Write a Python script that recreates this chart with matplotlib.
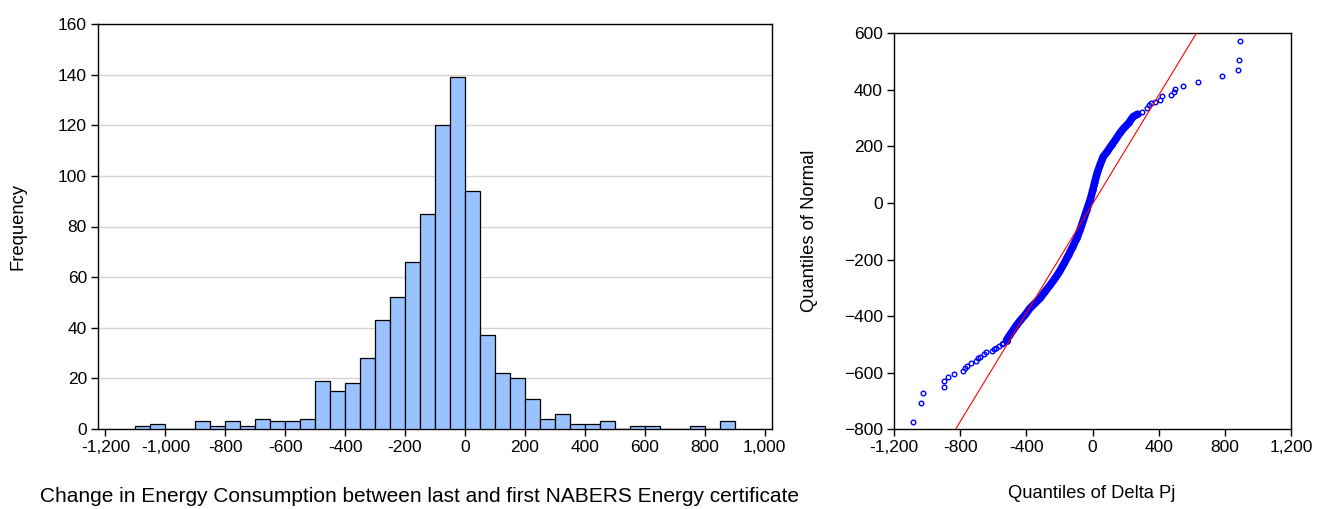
import matplotlib
matplotlib.use("Agg")
import matplotlib.pyplot as plt
import numpy as np
from matplotlib.ticker import FuncFormatter

plt.rcParams['font.family'] = ['Liberation Sans', 'DejaVu Sans']

# ---- Histogram: change in energy consumption (bins of 50) ----
bin_edges = np.arange(-1100, 901, 50)
counts = [1, 2, 0, 0, 3, 1, 3, 1, 4, 3,
          3, 4, 19, 15, 18, 28, 43, 52, 66, 85,
          120, 139, 94, 37, 22, 20, 12, 4, 6, 2,
          2, 3, 0, 1, 1, 0, 0, 1, 0, 3]
hist_xticks = list(range(-1200, 1001, 200))
hist_yticks = list(range(0, 161, 20))

# ---- Q-Q plot: sample quantiles of Delta Pj vs normal quantiles ----
qq_delta = [-1088, -1034, -1022, -899, -899, -873, -836, -784, -773, -761,
            -735, -703, -693, -681, -656, -644, -610, -596, -582, -565,
            -549, -543, -515,
            -519, -499, -479, -458, -434, -408, -378, -347, -317, -287,
            -256, -226, -200, -171, -145, -119, -95, -75, -55, -35,
            -14, 2, 14, 28, 45, 65, 88, 116, 138, 164,
            188, 218, 245, 273,
            299, 330, 342, 352, 376, 410, 418, 475, 491, 497,
            550, 639, 782, 877, 885, 893]
qq_normal = [-775, -707, -672, -649, -629, -615, -603, -593, -582, -575,
             -564, -558, -549, -543, -533, -528, -522, -517, -514, -505,
             -498, -494, -488,
             -484, -466, -449, -431, -413, -396, -372, -354, -337, -313,
             -290, -266, -243, -213, -184, -154, -125, -95, -60, -25,
             11, 46, 75, 105, 134, 164, 181, 205, 223, 246,
             264, 282, 305, 314,
             322, 336, 348, 353, 357, 364, 377, 381, 391, 404,
             415, 429, 448, 471, 506, 574]
qq_line_intercept = -3.8
qq_line_slope = 0.9615
qq_xticks = list(range(-1200, 1201, 400))
qq_yticks = list(range(-800, 601, 200))

W, H = 1327, 509
fig = plt.figure(figsize=(W / 100, H / 100), dpi=100)

comma_fmt = FuncFormatter(lambda v, p: f"{v:,.0f}")
TICK_FS = 12.5
LABEL_FS = 13.2

# Histogram panel
ax1 = fig.add_axes([98 / W, 1 - 429 / H, 674 / W, 405 / H])
ax1.bar(bin_edges[:-1], counts, width=50, align='edge', color='#99c2ff',
        edgecolor='black', linewidth=0.9, zorder=3)
ax1.set_xlim(-1225, 1025)
ax1.set_ylim(0, 160)
ax1.set_xticks(hist_xticks)
ax1.set_yticks(hist_yticks)
ax1.xaxis.set_major_formatter(comma_fmt)
ax1.yaxis.grid(True, color='#d4d4d4', linewidth=1.0, zorder=0)
ax1.set_axisbelow(True)
ax1.tick_params(direction='out', length=5, width=1, labelsize=TICK_FS, pad=3,
                colors='black')
for s in ax1.spines.values():
    s.set_linewidth(1.0)
    s.set_color('black')

fig.text(420 / W, 1 - 497 / H,
         "Change in Energy Consumption between last and first NABERS Energy certificate",
         ha='center', va='center', fontsize=15)
fig.text(18 / W, 1 - 226 / H, "Frequency", rotation=90,
         ha='center', va='center', fontsize=LABEL_FS)

# Q-Q panel
ax2 = fig.add_axes([894 / W, 1 - 429.3 / H, 397 / W, 396 / H])
delta = np.array(qq_delta)
normal = np.array(qq_normal)
core = (normal >= -490) & (normal <= 320)
ax2.plot(delta[core], normal[core], color='#0000ff', linewidth=5.5,
         solid_capstyle='round', zorder=2)
ax2.plot(delta, normal, linestyle='none', marker='o', markersize=3.3,
         markerfacecolor='none', markeredgecolor='#0000ff',
         markeredgewidth=1.0, zorder=3)
ax2.axline((0, qq_line_intercept), slope=qq_line_slope, color='red',
           linewidth=0.8, zorder=4)
ax2.set_xlim(-1200, 1200)
ax2.set_ylim(-800, 600)
ax2.set_xticks(qq_xticks)
ax2.set_yticks(qq_yticks)
ax2.xaxis.set_major_formatter(comma_fmt)
ax2.tick_params(direction='out', length=5, width=1, labelsize=TICK_FS, pad=3,
                colors='black')
for s in ax2.spines.values():
    s.set_linewidth(1.0)
    s.set_color('black')

fig.text(810 / W, 1 - 231 / H, "Quantiles of Normal", rotation=90,
         ha='center', va='center', fontsize=LABEL_FS)
fig.text(1092 / W, 1 - 494 / H, "Quantiles of Delta Pj",
         ha='center', va='center', fontsize=LABEL_FS)

fig.savefig("out.png", dpi=100)
